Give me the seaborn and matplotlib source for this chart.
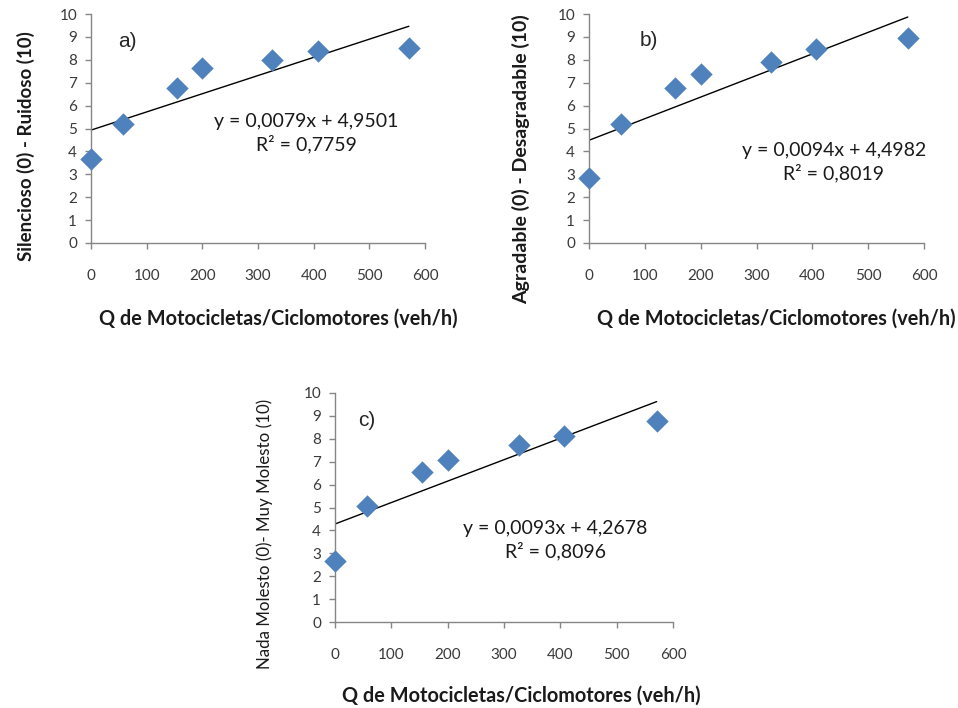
import numpy as np
import seaborn as sns
import matplotlib.pyplot as plt

# datos
q_motos = [0, 57, 154, 200, 326, 407, 571]
ruido = [3.65, 5.2, 6.78, 7.63, 7.99, 8.38, 8.5]
agrado = [2.86, 5.2, 6.79, 7.38, 7.91, 8.46, 8.97]
molestia = [2.66, 5.07, 6.54, 7.08, 7.74, 8.13, 8.79]

panel_labels = ["a)", "b)", "c)"]
y_labels = [
    "Silencioso (0) - Ruidoso (10)",
    "Agradable (0) - Desagradable (10)",
    "Nada Molesto (0)- Muy Molesto (10)",
]
ecuaciones = [
    "y = 0,0079x + 4,9501\nR² = 0,7759",
    "y = 0,0094x + 4,4982\nR² = 0,8019",
    "y = 0,0093x + 4,2678\nR² = 0,8096",
]
x_label = "Q de Motocicletas/Ciclomotores (veh/h)"

sns.set_style("ticks")
plt.rcParams["font.family"] = ["Lato", "DejaVu Sans"]

W, H = 958, 708
fig = plt.figure(figsize=(W / 100, H / 100), dpi=100)


def px_axes(left, top, right, bottom):
    return fig.add_axes([left / W, 1 - bottom / H, (right - left) / W, (bottom - top) / H])


axes = [
    px_axes(91, 14, 425, 243),
    px_axes(589, 14, 924, 243),
    px_axes(335, 393, 673, 622),
]
series = [ruido, agrado, molestia]

# posiciones de textos (coordenadas de ejes)
lbl_pos = [(0.108, 0.882), (0.179, 0.886), (0.095, 0.878)]
eq_pos = [(0.645, 0.478), (0.731, 0.353), (0.651, 0.358)]
ylab_pos = [(-0.168, 0.424), (-0.176, 0.367), (-0.183, 0.384)]
xlab_pos = [(0.56, -0.285), (0.558, -0.285), (0.55, -0.28)]
ylab_size = [13.5, 14, 12.2]
ylab_weight = ["bold", "bold", "normal"]

for i, ax in enumerate(axes):
    sns.regplot(
        x=q_motos, y=series[i], ax=ax, ci=None, truncate=True,
        marker="D",
        scatter_kws={"s": 130, "color": "#4F81BD", "alpha": 1, "linewidths": 0, "zorder": 3},
        line_kws={"color": "black", "lw": 1, "zorder": 2},
    )
    ax.set_xlim(0, 600)
    ax.set_ylim(0, 10)
    ax.set_xticks(range(0, 700, 100))
    ax.set_yticks(range(0, 11))
    sns.despine(ax=ax)
    for s in ["left", "bottom"]:
        ax.spines[s].set_color("#868686")
        ax.spines[s].set_linewidth(1)
    ax.tick_params(axis="both", colors="#868686", labelcolor="#3a3a3a", labelsize=11, length=4, width=1)
    ax.tick_params(axis="x", pad=15)
    ax.tick_params(axis="y", pad=6)
    for c in ax.collections:
        c.set_clip_on(False)

    ax.set_xlabel(x_label, fontsize=14.3, fontweight="bold", color="#1a1a1a")
    ax.xaxis.set_label_coords(*xlab_pos[i])
    ax.set_ylabel(y_labels[i], fontsize=ylab_size[i], fontweight=ylab_weight[i], color="#1a1a1a")
    ax.yaxis.set_label_coords(*ylab_pos[i])

    ax.text(*lbl_pos[i], panel_labels[i], transform=ax.transAxes, ha="center", va="center",
            fontsize=15, family=["Liberation Sans", "DejaVu Sans"])
    ax.text(*eq_pos[i], ecuaciones[i], transform=ax.transAxes, ha="center", va="center",
            fontsize=14, linespacing=1.3, multialignment="center", color="#1a1a1a")

fig.savefig("out.png", dpi=100)
